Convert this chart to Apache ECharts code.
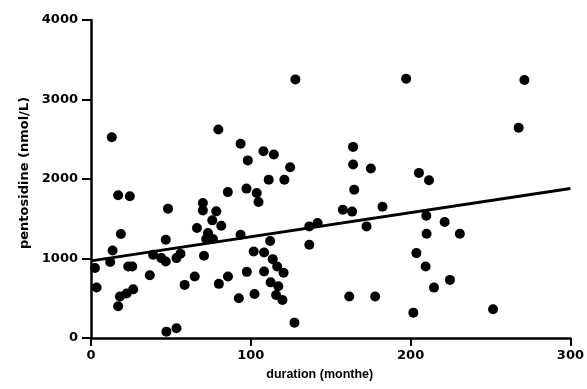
<!DOCTYPE html>
<html>
<head>
<meta charset="utf-8">
<script src="https://cdn.jsdelivr.net/npm/echarts@6/dist/echarts.min.js"></script>
<style>
  html, body { margin: 0; padding: 0; background: #fff; }
  #chart { width: 587px; height: 389px; }
</style>
</head>
<body>
<div id="chart"></div>
<script>
// duration (months), pentosidine (nmol/L)
const durationMonths = [
  2.5, 3.5, 12, 13.5, 13, 17, 24.3, 18.7, 17, 18.1, 22.3, 26.4, 23.3, 25.8, 36.8, 38.9,
  44, 46.8, 46.8, 48.2, 47.2, 53.5, 53.5, 56, 58.6, 64.9, 66.3, 70, 70, 70.7, 73.2, 72.1,
  76.3, 75.9, 78.4, 81.5, 79.7, 80, 85.7, 85.6, 92.5, 93.6, 93.6, 97.3, 98.1, 97.5, 101.8,
  102.3, 103.7, 104.8, 107.9, 108.3, 108.3, 111.2, 112.1, 112.4, 113.7, 114.4, 116.5, 117.2,
  115.8, 119.8, 120.5, 121, 124.6, 127.3, 127.9, 136.6, 136.6, 141.8, 157.6, 163.4, 161.6,
  164, 164, 164.7, 172.4, 175.1, 177.8, 182.4, 197.2, 201.7, 203.6, 205.2, 209.8, 210, 209.4,
  211.5, 214.6, 221.3, 224.6, 230.8, 251.6, 267.6, 271.2
]
const pentosidine = [
  880, 635, 955, 1100, 2525, 1795, 1782, 1308, 400, 521, 560, 612, 899, 899, 790, 1047,
  1005, 963, 1236, 1627, 80, 122, 1005, 1060, 668, 773, 1383, 1698, 1605, 1034, 1320, 1245,
  1245, 1480, 1593, 1412, 2623, 681, 773, 1835, 500, 1299, 2443, 1879, 2234, 832, 1088,
  553, 1824, 1711, 2349, 1076, 836, 1992, 1220, 700, 992, 2308, 899, 650,
  542, 479, 820, 1992, 2148, 193, 3253, 1173, 1404, 1446, 1614, 1590, 521,
  2404, 2182, 1866, 1404, 2131, 521, 1652, 3262, 319, 1068, 2077, 1538, 1311, 899,
  1984, 634, 1459, 731, 1311, 362, 2644, 3245
]
// regression line end points
const fitX = [0, 300]
const fitY = [970, 1880]

const xTicks = { min: 0, max: 300, interval: 100 }
const yTicks = { min: 0, max: 4000, interval: 1000 }

const chart = echarts.init(document.getElementById('chart'))

const labelFont = {
  color: '#000',
  fontFamily: 'DejaVu Sans',
  fontWeight: 'bold',
  fontSize: 13,
  formatter: v => String(v)
}

chart.setOption({
  animation: false,
  backgroundColor: '#fff',
  grid: {
    left: 91,
    right: 15,
    top: 20,
    bottom: 51
  },
  xAxis: {
    type: 'value',
    min: xTicks.min,
    max: xTicks.max,
    interval: xTicks.interval,
    name: 'duration (monthe)',
    nameLocation: 'middle',
    nameGap: 30,
    nameTextStyle: {
      color: '#000',
      fontFamily: 'Liberation Sans',
      fontWeight: 'bold',
      fontSize: 12.5,
      padding: [0, 22, 0, 0]
    },
    axisLine: { lineStyle: { color: '#000', width: 2.5 } },
    axisTick: { length: 8, lineStyle: { color: '#000', width: 2 } },
    axisLabel: Object.assign({ margin: 11 }, labelFont),
    splitLine: { show: false }
  },
  yAxis: {
    type: 'value',
    min: yTicks.min,
    max: yTicks.max,
    interval: yTicks.interval,
    name: 'pentosidine (nmol/L)',
    nameLocation: 'middle',
    nameGap: 60,
    nameTextStyle: {
      color: '#000',
      fontFamily: 'DejaVu Sans',
      fontWeight: 'bold',
      fontSize: 13,
      padding: [0, 0, 0, 12]
    },
    axisLine: { show: true, lineStyle: { color: '#000', width: 2.5 } },
    axisTick: { show: true, length: 9, lineStyle: { color: '#000', width: 2 } },
    axisLabel: Object.assign({ margin: 13 }, labelFont),
    splitLine: { show: false }
  },
  series: [
    {
      type: 'scatter',
      symbol: 'circle',
      symbolSize: 10,
      itemStyle: { color: '#000', opacity: 1 },
      data: durationMonths.map((d, i) => [d, pentosidine[i]])
    },
    {
      type: 'line',
      showSymbol: false,
      symbol: 'none',
      lineStyle: { color: '#000', width: 3 },
      data: fitX.map((d, i) => [d, fitY[i]])
    }
  ]
})
</script>
</body>
</html>
